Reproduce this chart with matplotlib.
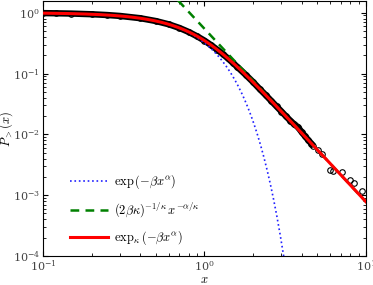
import numpy as np
import matplotlib
matplotlib.use('Agg')
import matplotlib.pyplot as plt

plt.rcParams['mathtext.fontset'] = 'cm'
plt.rcParams['font.family'] = 'serif'
plt.rcParams['font.serif'] = ['DejaVu Serif']

x_data = [0.10, 0.12, 0.15, 0.20, 0.25, 0.30, 0.40, 0.50, 0.60, 0.70, 0.80, 0.90,
          1.00, 1.10, 1.20, 1.30, 1.40, 1.50, 1.60, 1.80, 2.00, 2.20, 2.40, 2.60,
          2.80, 3.00, 3.20, 3.40, 3.60, 3.80, 4.00, 4.20, 4.40, 4.60,
          4.72, 5.07, 5.32, 5.98, 6.28, 7.08, 7.96, 8.43, 9.40]
p_data = [0.985, 0.979, 0.968, 0.944, 0.916, 0.885, 0.813, 0.730, 0.646, 0.562, 0.482, 0.410,
          0.348, 0.293, 0.247, 0.209, 0.177, 0.150, 0.128, 0.0955, 0.0725, 0.0555, 0.0440, 0.0352,
          0.0287, 0.0237, 0.0198, 0.0168, 0.0146, 0.0131, 0.0109, 0.0093, 0.0080, 0.0070,
          6.4e-3, 5.6e-3, 4.7e-3, 2.63e-3, 2.53e-3, 2.37e-3, 1.79e-3, 1.57e-3, 1.18e-3]
n_dense = 34  # points that overlap into a solid band

# fitted parameters
alpha = 1.85
beta = 1.14
kappa = 0.65


def exp_kappa(u, k):
    return (np.sqrt(1 + k**2 * u**2) + k * u) ** (1.0 / k)


fig = plt.figure(figsize=(3.73, 2.85), dpi=100)
ax = fig.add_axes([0.115, 0.102, 0.866, 0.894])

ax.plot(x_data[:n_dense], p_data[:n_dense], '-', color='k', lw=4.6, zorder=1)
ax.plot(x_data, p_data, 'o', mfc='none', mec='k', ms=4.0, mew=0.8, zorder=1)

xs = np.logspace(-1, 1, 400)
xb = xs[xs < 3.15]
ax.plot(xb, np.exp(-beta * xb**alpha), ':', color='#2020ff', lw=1.2,
        label=r'$\exp\left(-\beta x^{\alpha}\right)$', zorder=2)
xg = xs[xs > 0.68]
ax.plot(xg, (2 * beta * kappa) ** (-1 / kappa) * xg ** (-alpha / kappa), '--',
        color='#008000', lw=1.8, dashes=(3.5, 2.5),
        label=r'$(2\beta\kappa)^{-1/\kappa}\,x^{-\alpha/\kappa}$', zorder=3)
ax.plot(xs, exp_kappa(-beta * xs**alpha, kappa), '-', color='#ff0000', lw=2.2,
        label=r'$\exp_{\kappa}\left(-\beta x^{\alpha}\right)$', zorder=4)

ax.set_xscale('log')
ax.set_yscale('log')
ax.set_xlim(0.1, 10)
ax.set_ylim(1e-4, 1.55)
ax.set_xlabel(r'$x$', fontsize=9, labelpad=0)
ax.set_ylabel(r'$P_{>}(x)$', fontsize=9)
ax.yaxis.set_label_coords(-0.085, 0.5)
ax.tick_params(which='both', direction='in', top=True, right=True,
               labelsize=8, labelcolor='#444444', pad=2)
ax.tick_params(which='major', length=3.5)
ax.tick_params(which='minor', length=2)

ax.legend(loc='lower left', bbox_to_anchor=(0.05, -0.01), frameon=False, fontsize=9,
          handlelength=3.0, labelspacing=0.75, handletextpad=0.5)

fig.savefig('out.png', dpi=100)
